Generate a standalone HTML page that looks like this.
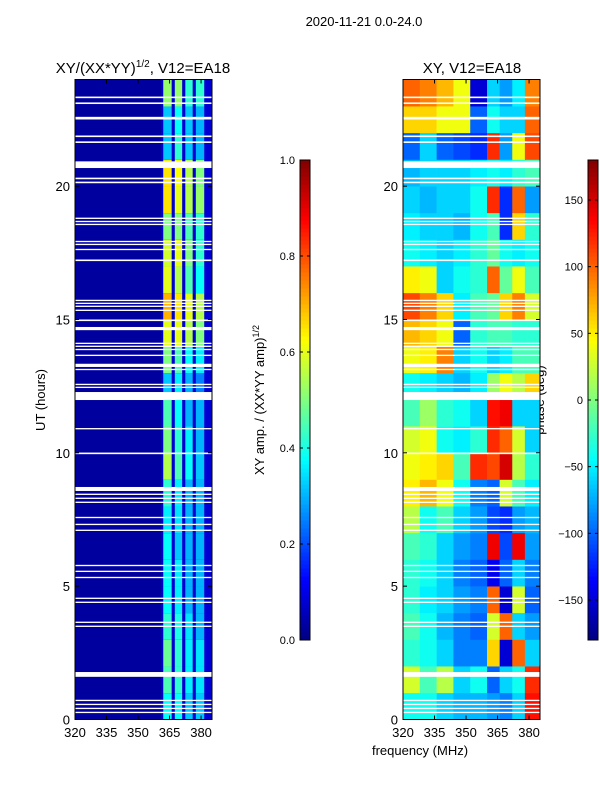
<!DOCTYPE html>
<html><head><meta charset="utf-8">
<style>
body{margin:0;background:#fff;width:600px;height:800px;overflow:hidden;font-family:"Liberation Sans",sans-serif}
svg text{font-family:"Liberation Sans","DejaVu Sans",sans-serif;fill:#000}
</style></head>
<body>
<svg id="chart" width="600" height="800" xmlns="http://www.w3.org/2000/svg">
<text x="364" y="26" font-size="13" text-anchor="middle">2020-11-21 0.0-24.0</text>
<text x="143" y="73" font-size="15" text-anchor="middle">XY/(XX*YY)<tspan font-size="10" dy="-6">1/2</tspan><tspan dy="6">, V12=EA18</tspan></text>
<text x="472" y="73" font-size="15" text-anchor="middle">XY, V12=EA18</text>
<text transform="translate(45,400) rotate(-90)" font-size="13" text-anchor="middle">UT (hours)</text>
<text transform="translate(264,400) rotate(-90)" font-size="13" text-anchor="middle">XY amp. / (XX*YY amp)<tspan font-size="9" dy="-5">1/2</tspan></text>
<text transform="translate(544,400) rotate(-90)" font-size="13" text-anchor="middle">phase (deg)</text>
<text x="420" y="755" font-size="13" text-anchor="middle">frequency (MHz)</text>
<g id="g"></g>
</svg>
<script>
const hours=[0,1,2,3,4,5,6,7,8,9,10,11,12,13,14,15,16,17,18,19,20,21,22,23];
// amplitude stripe values per hour (4 bright stripes 362-385 MHz)
const ampStripes=[
[0.38,0.38,0.32,0.32],[0.45,0.42,0.36,0.35],[0.48,0.42,0.36,0.35],[0.42,0.4,0.35,0.3],
[0.38,0.36,0.3,0.3],[0.38,0.36,0.3,0.3],[0.38,0.32,0.3,0.3],[0.36,0.35,0.3,0.3],
[0.42,0.36,0.3,0.3],[0.55,0.45,0.38,0.32],[0.5,0.42,0.36,0.3],[0.45,0.38,0.3,0.3],
[0.32,0.36,0.3,0.25],[0.5,0.45,0.38,0.36],[0.6,0.6,0.55,0.5],[0.7,0.65,0.6,0.55],
[0.6,0.55,0.45,0.38],[0.58,0.6,0.5,0.42],[0.5,0.5,0.45,0.42],[0.65,0.6,0.55,0.52],
[0.65,0.62,0.55,0.5],[0.32,0.42,0.32,0.3],[0.32,0.38,0.32,0.3],[0.52,0.52,0.42,0.42]];
const ampBackground=0.03;
const ampGap=0.08;
const stripeEdges=[[362,366],[367.5,371],[372.5,376],[377.5,381.5]];
// phase values (deg) per hour and frequency column
const phaseEdges=[320,328,336,344,352,360,366,372,378,385.2];
const phase=[
[-40,-40,-60,-70,-70,-80,-90,-60,130],
[30,-20,20,-60,-40,-100,-60,-40,120],
[-30,-40,-60,-90,-90,60,-150,100,-60],
[-20,-40,-70,-90,-100,30,100,-60,-80],
[-30,-50,-60,-80,-90,100,-150,30,-100],
[-30,-40,-60,-90,-100,-140,-100,-60,-90],
[-20,-30,-60,-80,-90,140,-110,140,-80],
[20,-40,-20,-60,-80,-110,-120,-80,-70],
[50,70,40,-40,-90,-100,30,-20,-50],
[40,50,60,-20,120,110,150,20,-30],
[30,40,-40,-50,-30,120,100,30,-60],
[-20,10,-30,-40,-60,130,140,-60,-60],
[-40,-50,-60,-70,-50,10,40,20,60],
[40,50,90,-60,-40,-60,-50,-20,-20],
[70,60,40,-100,-30,-20,-20,-30,-30],
[110,90,60,-50,-20,-10,60,90,30],
[50,40,-60,-40,-30,100,-10,40,-20],
[-40,-50,-60,-50,-30,-10,-40,-50,-40],
[-50,-60,-60,-70,-40,-20,-120,60,-30],
[-60,-70,-60,-60,-40,120,-120,100,-80],
[-70,-60,-60,-60,-50,-40,-50,-30,-20],
[-100,-60,-100,-110,-120,120,-80,40,110],
[60,60,40,40,-100,-40,-60,-60,100],
[100,90,70,40,-150,-60,-80,-50,90]];
// flagged (white) time ranges: [start hour, duration]
const flags=[[23.3,0.06],[23.08,0.06],[22.5,0.1],[21.84,0.06],[21.62,0.06],[20.68,0.25],[20.26,0.06],[20.11,0.06],
[18.77,0.05],[18.65,0.05],[18.54,0.05],[17.9,0.05],[17.79,0.05],[17.6,0.05],[17.19,0.06],[15.69,0.05],[15.58,0.05],
[15.47,0.05],[15.32,0.05],[14.94,0.06],[14.6,0.12],[14.08,0.05],[13.97,0.05],[13.85,0.05],[13.63,0.05],[13.22,0.12],
[13.1,0.05],[12.54,0.05],[12.43,0.05],[11.98,0.3],[10.88,0.05],[9.95,0.06],[8.57,0.15],[8.42,0.05],[8.27,0.05],[8.12,0.05],
[7.55,0.05],[7.29,0.05],[7.07,0.05],[5.75,0.05],[5.53,0.05],[5.3,0.05],[4.52,0.05],[4.37,0.05],[3.62,0.05],[3.47,0.05],
[1.6,0.18],[0.69,0.05],[0.54,0.05],[0.39,0.05],[0.24,0.05]];
const yTicks=[0,5,10,15,20];
const xTicks=[320,335,350,365,380];
const ampTicks=[0.0,0.2,0.4,0.6,0.8,1.0];
const phaseTicks=[-150,-100,-50,0,50,100,150];

const NS="http://www.w3.org/2000/svg";
const g=document.getElementById('g');
function jet(v){v=Math.max(0,Math.min(1,v));
 const r=Math.max(0,Math.min(1,Math.min(4*v-1.5,-4*v+4.5)));
 const gg=Math.max(0,Math.min(1,Math.min(4*v-0.5,-4*v+3.5)));
 const b=Math.max(0,Math.min(1,Math.min(4*v+0.5,-4*v+2.5)));
 return `rgb(${Math.round(r*255)},${Math.round(gg*255)},${Math.round(b*255)})`;}
function el(t,a,p){const e=document.createElementNS(NS,t);for(const k in a)e.setAttribute(k,a[k]);(p||g).appendChild(e);return e;}
const Y0=719.5,Y1=79.5;
const yS=h=>Y0+(Y1-Y0)*h/24;
function xS(x0,x1){return f=>x0+(x1-x0)*(f-320)/(385.2-320);}
const panels=[{x0:75,x1:212},{x0:403,x1:540}];
const xL=xS(75,212),xR=xS(403,540);

const gl=el('g',{});


el('rect',{x:75,y:Y1,width:137,height:Y0-Y1,fill:jet(ampBackground)},gl);
hours.forEach((h,i)=>{
 el('rect',{x:xL(361),y:yS(h+1),width:xL(385.2)-xL(361),height:yS(h)-yS(h+1)+0.3,fill:jet(ampGap)},gl);
 stripeEdges.forEach((se,j)=>{
  const r=el('rect',{x:xL(se[0]),y:yS(h+1),width:xL(se[1])-xL(se[0]),height:yS(h)-yS(h+1)+0.3,fill:jet(ampStripes[i][j])},gl);
  
  
 });
});
const gr=el('g',{});


hours.forEach((h,i)=>{
 for(let j=0;j<phaseEdges.length-1;j++){
  const r=el('rect',{x:xR(phaseEdges[j]),y:yS(h+1),width:xR(phaseEdges[j+1])-xR(phaseEdges[j])+0.3,height:yS(h)-yS(h+1)+0.3,fill:jet((phase[i][j]+180)/360)},gr);
  
  
 }
});
panels.forEach(p=>{
 flags.forEach(f=>{
  const r=el('rect',{x:p.x0,y:yS(f[0]+f[1]),width:p.x1-p.x0,height:Math.max(1.3,yS(f[0])-yS(f[0]+f[1])),fill:'#fff'});
  
  
 });
});
panels.forEach((p,k)=>{
 const xs=k?xR:xL;
 const fr=el('rect',{x:p.x0,y:Y1,width:p.x1-p.x0,height:Y0-Y1,fill:'none',stroke:'#000','stroke-width':1});
 
 
 yTicks.forEach(t=>{
  el('line',{x1:p.x0,x2:p.x0+4,y1:yS(t),y2:yS(t),stroke:'#000'});
  el('line',{x1:p.x1,x2:p.x1-4,y1:yS(t),y2:yS(t),stroke:'#000'});
  const tx=el('text',{x:p.x0-5,y:yS(t)+5,'font-size':13,'text-anchor':'end'});tx.textContent=t;
  
  
 });
 xTicks.forEach(t=>{
  el('line',{x1:xs(t),x2:xs(t),y1:Y0,y2:Y0-4,stroke:'#000'});
  el('line',{x1:xs(t),x2:xs(t),y1:Y1,y2:Y1+4,stroke:'#000'});
  const tx=el('text',{x:xs(t),y:737,'font-size':13,'text-anchor':'middle'});tx.textContent=t;
  
  
 });
});
function colorbar(x,name,ticks,lo,hi,fmt){
 const cb=el('g',{});
 
 
 const top=160,bot=640,n=120;
 for(let i=0;i<n;i++){
  el('rect',{x:x,y:bot-(i+1)*(bot-top)/n,width:10,height:(bot-top)/n+0.5,fill:jet((i+0.5)/n)},cb);
 }
 el('rect',{x:x,y:top,width:10,height:bot-top,fill:'none',stroke:'#000'},cb);
 ticks.forEach(t=>{
  const y=bot-(bot-top)*(t-lo)/(hi-lo);
  el('line',{x1:x,x2:x+3,y1:y,y2:y,stroke:'#000'},cb);
  el('line',{x1:x+10,x2:x+7,y1:y,y2:y,stroke:'#000'},cb);
  const tx=el('text',{x:x-5,y:y+4,'font-size':11,'text-anchor':'end'},cb);tx.textContent=fmt(t);
  
  
 });
}
colorbar(300,'amp-colorbar',ampTicks,0,1,t=>t.toFixed(1));
colorbar(588,'phase-colorbar',phaseTicks,-180,180,t=>t<0?'\u2212'+(-t):String(t));
</script>
</body></html>
